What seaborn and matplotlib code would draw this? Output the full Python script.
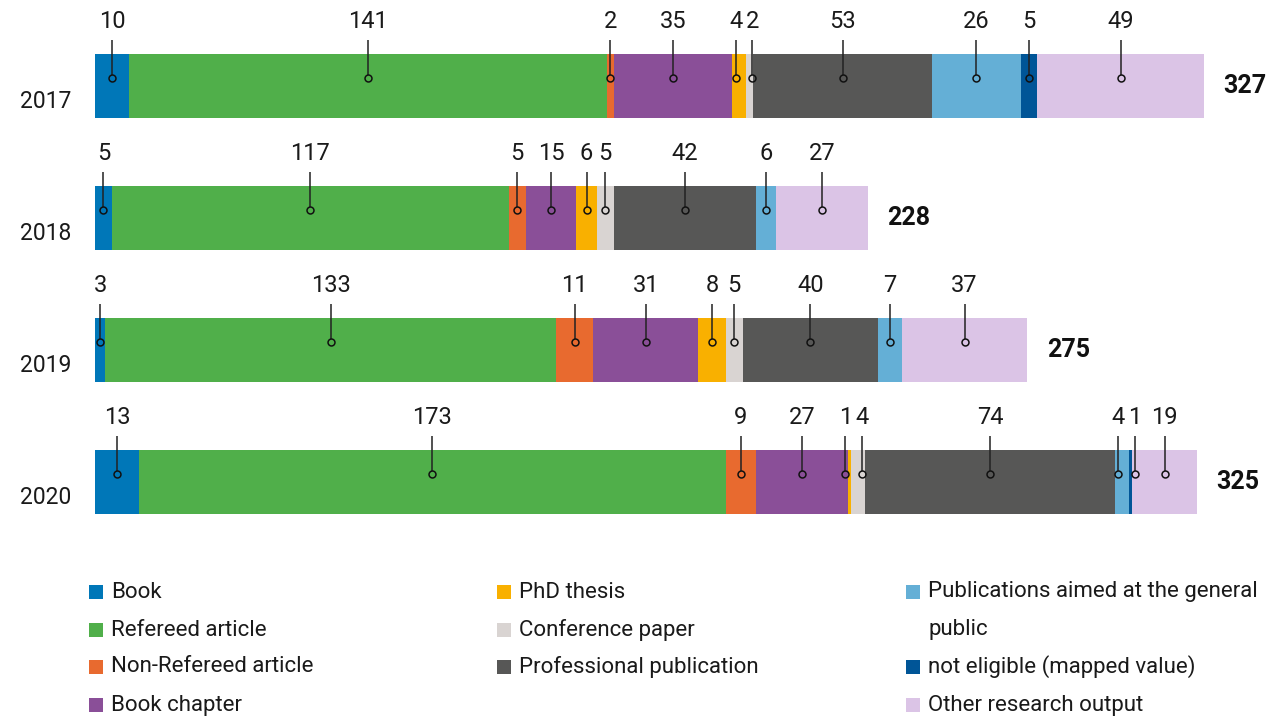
import numpy as np
import pandas as pd
import matplotlib
matplotlib.use("Agg")
import matplotlib.pyplot as plt
import matplotlib.transforms as mtransforms
from matplotlib.patches import Rectangle
import seaborn as sns

# Research output per year, by output type
years = ["2017", "2018", "2019", "2020"]
categories = [
    "Book", "Refereed article", "Non-Refereed article", "Book chapter",
    "PhD thesis", "Conference paper", "Professional publication",
    "Publications aimed at the general public",
    "not eligible (mapped value)", "Other research output",
]
book = [10, 5, 3, 13]
refereed_article = [141, 117, 133, 173]
non_refereed_article = [2, 5, 11, 9]
book_chapter = [35, 15, 31, 27]
phd_thesis = [4, 6, 8, 1]
conference_paper = [2, 5, 5, 4]
professional_publication = [53, 42, 40, 74]
general_public = [26, 6, 7, 4]
not_eligible = [5, 0, 0, 1]
other_output = [49, 27, 37, 19]

colors = [
    "#0077b8", "#50af4a", "#e86a2f", "#8a4f98", "#f9b000",
    "#d9d4d2", "#575756", "#64afd6", "#005597", "#dbc4e6",
]

values = np.array([
    book, refereed_article, non_refereed_article, book_chapter, phd_thesis,
    conference_paper, professional_publication, general_public, not_eligible,
    other_output,
])
cum = values.cumsum(axis=0)
totals = cum[-1]

sns.set_theme(style="white")
plt.rcParams["font.family"] = ["Roboto", "DejaVu Sans"]

W, H = 1268, 720
fig = plt.figure(figsize=(W / 100, H / 100), dpi=100)
ax = fig.add_axes([95 / W, 1 - 548 / H, (W - 95) / W, 528 / H])

# stacked bars: draw cumulative totals from the outermost segment inwards
for i in reversed(range(len(categories))):
    df = pd.DataFrame({"year": years, "value": cum[i]})
    sns.barplot(data=df, x="value", y="year", order=years, orient="h",
                color=colors[i], saturation=1, width=0.48, errorbar=None,
                linewidth=0, ax=ax)

ax.set_xlim(0, 346)
ax.set_ylim(3.5, -0.5)
ax.axis("off")

txt_color = "#1a1a1a"
circle_r = 3 / 132
min_sep = 4.8  # smallest distance between neighbouring callouts (data units)

for j, year in enumerate(years):
    idxs = [i for i in range(len(categories)) if values[i, j] > 0]
    pos = [cum[i, j] - values[i, j] / 2 for i in idxs]
    # spread callouts of very thin neighbouring segments apart
    for _ in range(10):
        for k in range(len(pos) - 1):
            gap = pos[k + 1] - pos[k]
            if gap < min_sep:
                shift = (min_sep - gap) / 2
                pos[k] -= shift
                pos[k + 1] += shift
    for i, xc in zip(idxs, pos):
        v = values[i, j]
        cy = j - 0.06
        ax.plot([xc, xc], [j - 0.35, cy - circle_r], color="#222222", lw=1.1,
                solid_capstyle="butt", clip_on=False)
        ax.plot(xc, cy, "o", ms=5, mfc="none", mec="#111111", mew=1.1,
                clip_on=False)
        ax.text(xc, j - 0.49, str(v), ha="center", va="center", fontsize=17,
                color=txt_color, clip_on=False)
    ax.annotate(str(totals[j]), xy=(totals[j], j), xytext=(14, 0),
                textcoords="offset points", ha="left", va="center",
                fontsize=18, fontweight="bold", color="#111111")

trans = mtransforms.blended_transform_factory(fig.transFigure, ax.transData)
for j, year in enumerate(years):
    ax.text(20 / W, j + 0.12, year, transform=trans, ha="left", va="center",
            fontsize=16.5, color=txt_color)

# legend in three columns below the bars
col_x = [89, 497, 906]
row_y = [592, 630, 667, 705]
legend_slots = [
    (0, 0, 0), (1, 0, 1), (2, 0, 2), (3, 0, 3),
    (4, 1, 0), (5, 1, 1), (6, 1, 2),
    (7, 2, 0), (8, 2, 2), (9, 2, 3),
]
sq = 14
for idx, col, row in legend_slots:
    x0, y0 = col_x[col], row_y[row]
    fig.add_artist(Rectangle((x0 / W, 1 - (y0 + sq / 2) / H), sq / W, sq / H,
                             transform=fig.transFigure, color=colors[idx],
                             linewidth=0))
    if idx == 7:
        fig.text((x0 + 22) / W, 1 - y0 / H, "Publications aimed at the general",
                 ha="left", va="center", fontsize=16, color=txt_color)
        fig.text((x0 + 22) / W, 1 - row_y[1] / H, "public",
                 ha="left", va="center", fontsize=16, color=txt_color)
        continue
    fig.text((x0 + 22) / W, 1 - y0 / H, categories[idx], ha="left",
             va="center", fontsize=16, color=txt_color)

fig.savefig("out.png", dpi=100)
